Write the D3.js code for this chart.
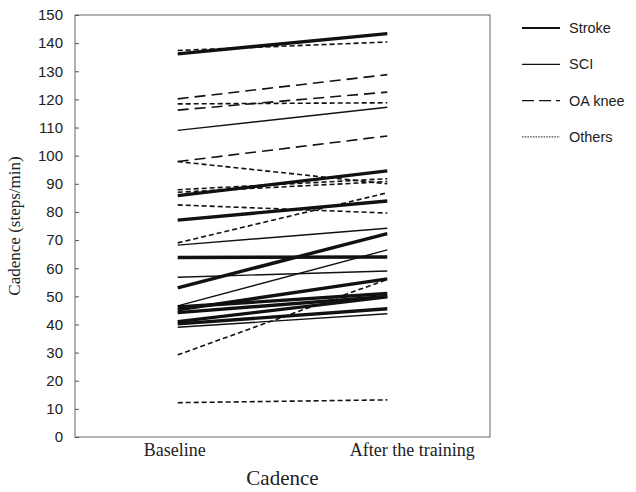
<!DOCTYPE html>
<html>
<head>
<meta charset="utf-8">
<script src="https://cdn.jsdelivr.net/npm/d3@7"></script>
<style>
  body { margin: 0; background: #fff; }
  svg { display: block; }
</style>
</head>
<body>
<svg id="chart"></svg>
<script>
// categories
const groups = ["Stroke", "SCI", "OA knee", "Others"];
const timepoints = ["Baseline", "After the training"];
const yTicks = d3.range(0, 151, 10);

// one entry per patient: group, cadence at baseline, cadence after the training
const patientGroup = [
  "Stroke", "Stroke", "Stroke", "Stroke", "Stroke", "Stroke", "Stroke", "Stroke", "Stroke", "Stroke",
  "SCI", "SCI", "SCI", "SCI", "SCI",
  "OA knee", "OA knee", "OA knee",
  "Others", "Others", "Others", "Others", "Others", "Others", "Others", "Others", "Others"
];
const baseline = [
  136.2, 85.8, 77.1, 63.8, 53.0, 45.2, 46.2, 44.2, 41.0, 40.2,
  109.0, 68.2, 56.8, 46.6, 39.0,
  120.2, 116.2, 97.9,
  137.4, 118.4, 97.9, 87.9, 87.0, 82.5, 69.0, 29.2, 12.2
];
const after = [
  143.4, 94.6, 83.9, 64.0, 72.3, 56.2, 51.0, 50.0, 49.8, 45.6,
  117.2, 74.2, 59.0, 66.5, 43.8,
  128.8, 122.6, 107.0,
  140.4, 118.8, 90.0, 91.8, 90.8, 79.6, 86.8, 56.0, 13.2
];

const width = 636, height = 492;
const margin = { top: 15, right: 146, bottom: 55, left: 75 };

const lineStyle = {
  "Stroke":  { w: 3.4, dash: null },
  "SCI":     { w: 1.4, dash: null },
  "OA knee": { w: 1.6, dash: "11,6" },
  "Others":  { w: 1.6, dash: "5,3" }
};
const legendStyle = {
  "Stroke":  { w: 2.2, dash: null },
  "SCI":     { w: 1.3, dash: null },
  "OA knee": { w: 1.4, dash: "12,5" },
  "Others":  { w: 1.0, dash: "1.5,1.2" }
};

const svg = d3.select("#chart")
  .attr("width", width)
  .attr("height", height);

const x = d3.scalePoint()
  .domain(timepoints)
  .range([margin.left, width - margin.right])
  .padding(0.49);

const y = d3.scaleLinear()
  .domain([0, 150])
  .range([height - margin.bottom, margin.top]);

// frame
svg.append("rect")
  .attr("x", margin.left)
  .attr("y", margin.top)
  .attr("width", width - margin.right - margin.left)
  .attr("height", y(0) - margin.top)
  .attr("fill", "none")
  .attr("stroke", "#666")
  .attr("stroke-width", 1);

// y axis with inward ticks
svg.append("g")
  .attr("transform", `translate(${margin.left},0)`)
  .call(d3.axisLeft(y).tickValues(yTicks).tickSize(-4).tickPadding(12))
  .call(g => g.select(".domain").remove())
  .call(g => g.selectAll(".tick line").attr("stroke", "#555"))
  .call(g => g.selectAll(".tick text")
    .attr("fill", "#222")
    .attr("font-family", "Liberation Sans, Arial, sans-serif")
    .attr("font-size", 15));

// patient lines
const rows = baseline.map((b, i) => ({ group: patientGroup[i], values: [b, after[i]] }));

const line = d3.line()
  .x((d, i) => x(timepoints[i]))
  .y(d => y(d));

svg.append("g")
  .selectAll("path")
  .data(rows)
  .join("path")
  .attr("d", d => line(d.values))
  .attr("fill", "none")
  .attr("stroke", "#111")
  .attr("stroke-width", d => lineStyle[d.group].w)
  .attr("stroke-dasharray", d => lineStyle[d.group].dash);

// category labels (the second label sits a bit right of its point)
const labelShift = { "Baseline": -3, "After the training": 25 };
svg.append("g")
  .selectAll("text")
  .data(timepoints)
  .join("text")
  .attr("x", d => x(d) + labelShift[d])
  .attr("y", 456)
  .attr("text-anchor", "middle")
  .attr("font-family", "Liberation Serif, Times New Roman, serif")
  .attr("font-size", 18)
  .attr("fill", "#222")
  .text(d => d);

// axis titles
svg.append("text")
  .attr("x", (margin.left + width - margin.right) / 2)
  .attr("y", 485)
  .attr("text-anchor", "middle")
  .attr("font-family", "Liberation Serif, Times New Roman, serif")
  .attr("font-size", 21)
  .attr("fill", "#222")
  .text("Cadence");

svg.append("text")
  .attr("transform", `translate(20,${(margin.top + y(0)) / 2}) rotate(-90)`)
  .attr("text-anchor", "middle")
  .attr("font-family", "Liberation Serif, Times New Roman, serif")
  .attr("font-size", 17)
  .attr("fill", "#222")
  .text("Cadence (steps/min)");

// legend
const legend = svg.append("g")
  .selectAll("g")
  .data(groups)
  .join("g")
  .attr("transform", (d, i) => `translate(522,${28 + i * 36.3})`);

legend.append("line")
  .attr("x1", 0)
  .attr("x2", 38)
  .attr("stroke", "#111")
  .attr("stroke-width", d => legendStyle[d].w)
  .attr("stroke-dasharray", d => legendStyle[d].dash);

legend.append("text")
  .attr("x", 47)
  .attr("y", 5)
  .attr("font-family", "Liberation Sans, Arial, sans-serif")
  .attr("font-size", 14.5)
  .attr("fill", "#222")
  .text(d => d);
</script>
</body>
</html>
